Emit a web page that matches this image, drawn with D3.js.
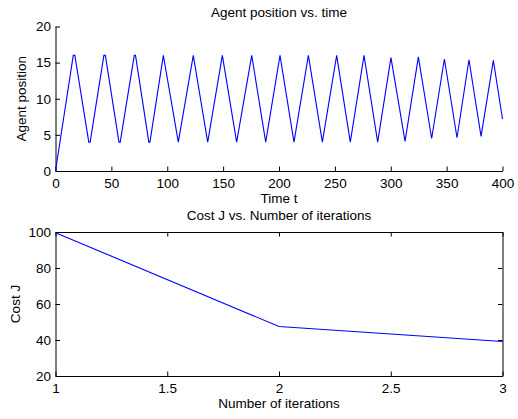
<!DOCTYPE html>
<html>
<head>
<meta charset="utf-8">
<script src="https://cdn.jsdelivr.net/npm/d3@7"></script>
<style>
  html, body { margin: 0; padding: 0; background: #fff; }
  svg { display: block; font-family: "Liberation Sans", Arial, Helvetica, sans-serif; }
</style>
</head>
<body>
<svg id="chart" width="518" height="419"></svg>
<script>
// ---- Data ----
const posTime  = [0, 15.9, 17.3, 29.8, 31, 43.3, 44.6, 56.8, 57.9, 70.5, 71.6, 83.5, 84.5, 96.5, 109.9, 123.3, 136.2, 149.3, 162.1, 175.6, 188.1, 200.9, 213.4, 226.3, 238.8, 251.6, 263.8, 276.1, 288.3, 300.2, 312.8, 324.7, 336.6, 348, 359.3, 370, 380.8, 391.8, 400];
const posValue = [0, 16, 16, 4, 4, 16, 16, 4, 4, 16, 16, 4, 4, 16, 4, 16, 4, 16, 4, 16, 4, 16, 4, 16, 4, 16, 4, 16, 4, 15.7, 4.1, 15.8, 4.5, 15.5, 4.6, 15.4, 4.8, 15.3, 7.2];
const topXTicks = [0, 50, 100, 150, 200, 250, 300, 350, 400];
const topYTicks = [0, 5, 10, 15, 20];

const iterations = [1, 2, 3];
const costJ = [99.6, 47.5, 39.2];
const botXTicks = [1, 1.5, 2, 2.5, 3];
const botYTicks = [20, 40, 60, 80, 100];

const titles = ["Agent position vs. time", "Cost J vs. Number of iterations"];
const xLabels = ["Time t", "Number of iterations"];
const yLabels = ["Agent position", "Cost J"];

// ---- Layout ----
const svg = d3.select("#chart");
svg.append("rect").attr("width", 518).attr("height", 419).attr("fill", "#fff");
const FS = 13.5;
const left = 55.5, right = 502.5;
const tick = 4.5;

function styleAxis(g) {
  g.selectAll("path.domain").attr("stroke", "#000").attr("stroke-width", 1);
  g.selectAll(".tick line").attr("stroke", "#000").attr("stroke-width", 1);
  g.selectAll("text").attr("font-size", FS).attr("fill", "#000")
    .attr("font-family", "'Liberation Sans', Arial, Helvetica, sans-serif");
}

// ---- Top plot ----
const x1 = d3.scaleLinear().domain([0, 400]).range([left, right]);
const y1 = d3.scaleLinear().domain([0, 20]).range([171, 26.5]);

svg.append("g").attr("transform", `translate(0,${y1(0)})`)
  .call(d3.axisBottom(x1).tickValues(topXTicks).tickFormat(d3.format("d"))
    .tickSizeInner(-tick).tickSizeOuter(0).tickPadding(7))
  .call(styleAxis);
svg.append("g").attr("transform", `translate(${x1(0)},0)`)
  .call(d3.axisLeft(y1).tickValues(topYTicks).tickFormat(d3.format("d"))
    .tickSizeInner(-tick).tickSizeOuter(0).tickPadding(4.5))
  .call(styleAxis);

const line1 = d3.line().x((d, i) => x1(posTime[i])).y(d => y1(d));
svg.append("path").datum(posValue).attr("d", line1)
  .attr("fill", "none").attr("stroke", "#0000ff").attr("stroke-width", 1.1)
  .attr("stroke-linejoin", "miter");

svg.append("text").attr("x", (left + right) / 2).attr("y", 16.7)
  .attr("text-anchor", "middle").attr("font-size", FS).text(titles[0]);
svg.append("text").attr("x", (left + right) / 2).attr("y", 203)
  .attr("text-anchor", "middle").attr("font-size", FS).text(xLabels[0]);
svg.append("text").attr("transform", `translate(25.5,${(y1(0) + y1(20)) / 2}) rotate(-90)`)
  .attr("text-anchor", "middle").attr("font-size", FS).text(yLabels[0]);

// ---- Bottom plot ----
const x2 = d3.scaleLinear().domain([1, 3]).range([left, right]);
const y2 = d3.scaleLinear().domain([20, 100]).range([376, 232]);

svg.append("g").attr("transform", `translate(0,${y2(20)})`)
  .call(d3.axisBottom(x2).tickValues(botXTicks).tickFormat(d3.format("~g"))
    .tickSizeInner(-tick).tickSizeOuter(0).tickPadding(7))
  .call(styleAxis);
svg.append("g").attr("transform", `translate(0,${y2(100)})`)
  .call(d3.axisTop(x2).tickValues(botXTicks).tickFormat("")
    .tickSizeInner(-tick).tickSizeOuter(0))
  .call(styleAxis);
svg.append("g").attr("transform", `translate(${x2(1)},0)`)
  .call(d3.axisLeft(y2).tickValues(botYTicks).tickFormat(d3.format("d"))
    .tickSizeInner(-tick).tickSizeOuter(0).tickPadding(4.5))
  .call(styleAxis);
svg.append("g").attr("transform", `translate(${x2(3)},0)`)
  .call(d3.axisRight(y2).tickValues(botYTicks).tickFormat("")
    .tickSizeInner(-tick).tickSizeOuter(0))
  .call(styleAxis);

const line2 = d3.line().x((d, i) => x2(iterations[i])).y(d => y2(d));
svg.append("path").datum(costJ).attr("d", line2)
  .attr("fill", "none").attr("stroke", "#0000ff").attr("stroke-width", 1.1);

svg.append("text").attr("x", (left + right) / 2).attr("y", 220)
  .attr("text-anchor", "middle").attr("font-size", FS).text(titles[1]);
svg.append("text").attr("x", (left + right) / 2).attr("y", 408)
  .attr("text-anchor", "middle").attr("font-size", FS).text(xLabels[1]);
svg.append("text").attr("transform", `translate(20,${(y2(20) + y2(100)) / 2}) rotate(-90)`)
  .attr("text-anchor", "middle").attr("font-size", FS).text(yLabels[1]);
</script>
</body>
</html>
